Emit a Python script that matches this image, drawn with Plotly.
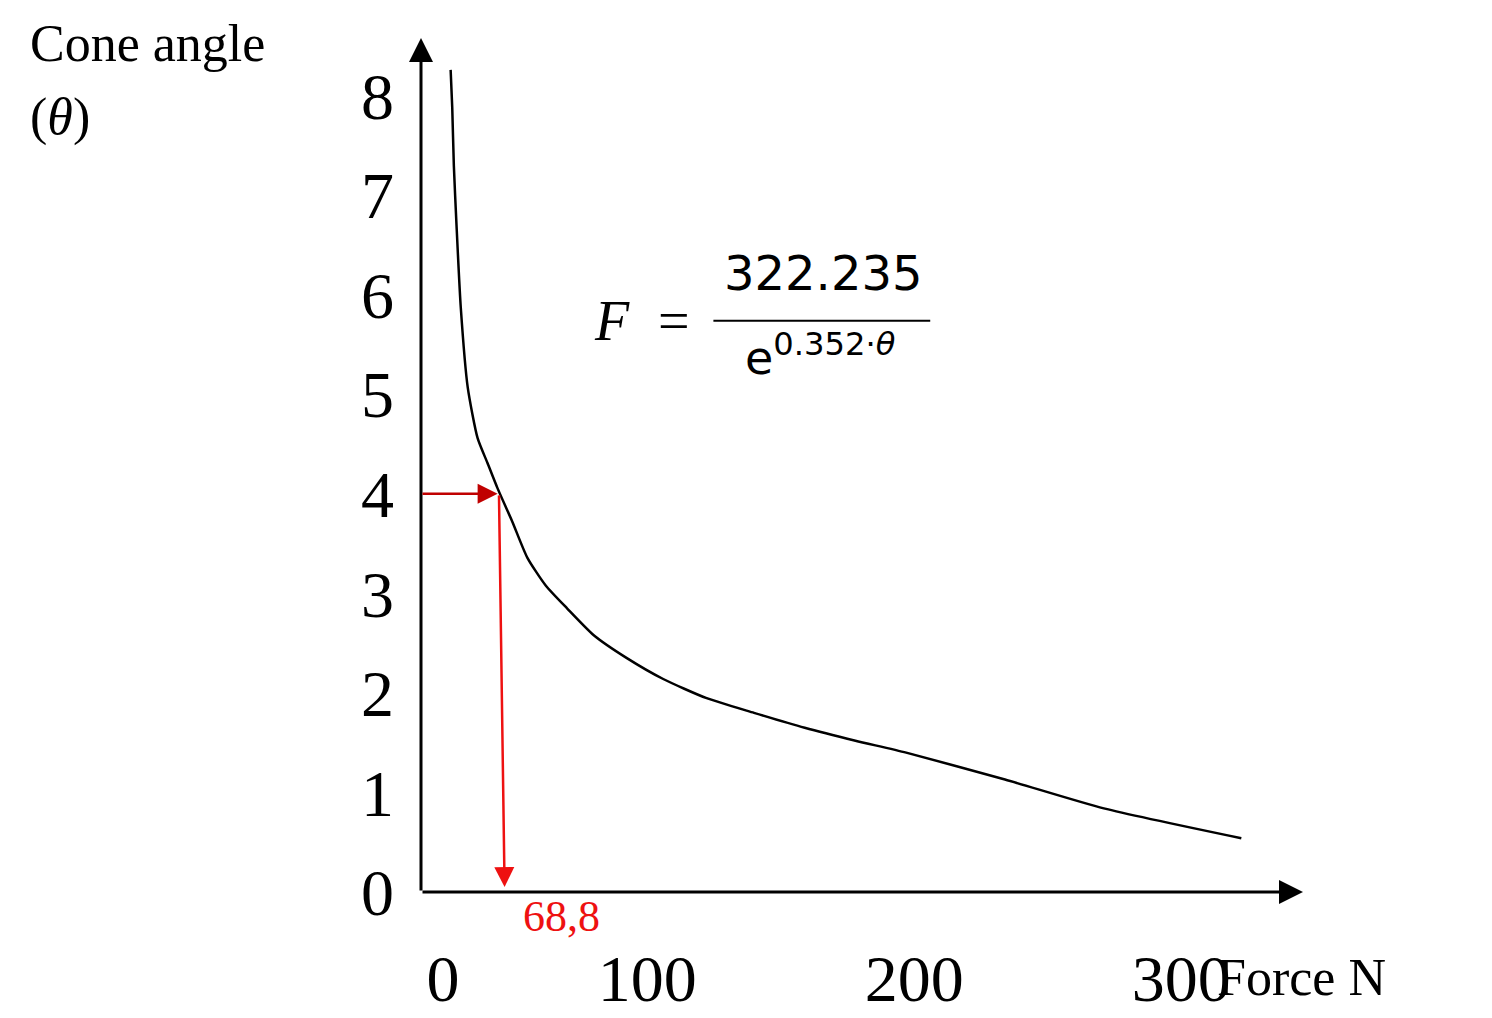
import plotly.graph_objects as go

force = [26.4, 27.0, 27.6, 28.6, 30.2, 32.8, 36.5, 40.2, 43.9, 49.5, 55.1, 62.0, 70.0, 80.0, 92.4, 106.0, 122.0, 140.0, 159.0, 178.0, 197.0, 234.0, 271.0, 322.5]
theta = [8.26, 7.88, 7.30, 6.70, 5.87, 5.07, 4.56, 4.31, 4.06, 3.72, 3.36, 3.08, 2.85, 2.58, 2.35, 2.14, 1.95, 1.80, 1.65, 1.52, 1.40, 1.13, 0.84, 0.54]
x_tick_vals = [23.5, 100, 200, 300]
x_tick_text = ["0", "100", "200", "300"]
y_ticks = [0, 1, 2, 3, 4, 5, 6, 7, 8]
marked_theta = 4
marked_force_label = "68,8"

X0, X1, Y1 = 15.3, 345.6, 8.58
serif = "Liberation Serif"

fig = go.Figure()
fig.add_trace(go.Scatter(x=force, y=theta, mode="lines", line=dict(color="black", width=2.5, shape="spline", smoothing=0.6),
                         showlegend=False, hoverinfo="skip"))

ann = []
ann.append(dict(x=X1, y=0, ax=X0, ay=0, xref="x", yref="y", axref="x", ayref="y", showarrow=True,
                arrowhead=2, arrowsize=1.6, arrowwidth=3, arrowcolor="black", text=""))
ann.append(dict(x=X0, y=Y1, ax=X0, ay=0, xref="x", yref="y", axref="x", ayref="y", showarrow=True,
                arrowhead=2, arrowsize=1.6, arrowwidth=3, arrowcolor="black", text=""))
ann.append(dict(x=44.0, y=marked_theta, ax=X0, ay=marked_theta, xref="x", yref="y", axref="x", ayref="y",
                showarrow=True, arrowhead=2, arrowsize=1.6, arrowwidth=2.5, arrowcolor="#c00000", text=""))
ann.append(dict(x=46.6, y=0.05, ax=44.5, ay=marked_theta, xref="x", yref="y", axref="x", ayref="y",
                showarrow=True, arrowhead=2, arrowsize=1.6, arrowwidth=2.5, arrowcolor="#ee1111", text=""))
W = 882.0
H = 854.0
ann.append(dict(x=(513 - 413) / W, y=(884 - 935) / H, xref="paper", yref="paper", text=marked_force_label,
                showarrow=False, font=dict(family=serif, size=44, color="#ee1111")))
ann.append(dict(x=86.8, y=5.74, xref="x", yref="y", text="<i>F</i>", showarrow=False,
                font=dict(family=serif, size=56, color="black")))
ann.append(dict(x=110, y=5.74, xref="x", yref="y", text="=", showarrow=False,
                font=dict(family=serif, size=56, color="black")))
ann.append(dict(x=166, y=6.22, xref="x", yref="y", text="322.235", showarrow=False,
                font=dict(family="DejaVu Sans", size=48, color="black")))
ann.append(dict(x=165, y=5.40, xref="x", yref="y", text="e<sup>0.352·<i>θ</i></sup>", showarrow=False,
                font=dict(family="DejaVu Sans", size=46, color="black")))
ann.append(dict(x=(20 - 413) / W, y=(884 - 5) / H, xref="paper", yref="paper", xanchor="left",
                text="Cone angle", showarrow=False, font=dict(family=serif, size=52, color="black")))
ann.append(dict(x=(20 - 413) / W, y=(884 - 78) / H, xref="paper", yref="paper", xanchor="left",
                text="(<i>θ</i>)", showarrow=False, font=dict(family=serif, size=52, color="black")))
ann.append(dict(x=(1380 - 413) / W, y=(884 - 1000) / H, xref="paper", yref="paper",
                text="Force N", showarrow=False, font=dict(family=serif, size=52, color="black")))

fig.update_layout(
    width=1492, height=1018, paper_bgcolor="white", plot_bgcolor="white",
    margin=dict(l=413, r=197, t=30, b=134),
    annotations=ann,
    shapes=[dict(type="line", xref="x", yref="y", x0=124.8, x1=206, y0=5.74, y1=5.74,
                 line=dict(color="black", width=2))],
    xaxis=dict(range=[X0, X1], showgrid=False, zeroline=False, showline=False, tickvals=x_tick_vals,
               ticktext=x_tick_text, ticks="", ticklabelstandoff=42,
               tickfont=dict(family=serif, size=66, color="black")),
    yaxis=dict(range=[0, Y1], showgrid=False, zeroline=False, showline=False, tickvals=y_ticks,
               ticks="", ticklabelstandoff=26, tickfont=dict(family=serif, size=66, color="black")),
)
fig.write_html("out.html")
